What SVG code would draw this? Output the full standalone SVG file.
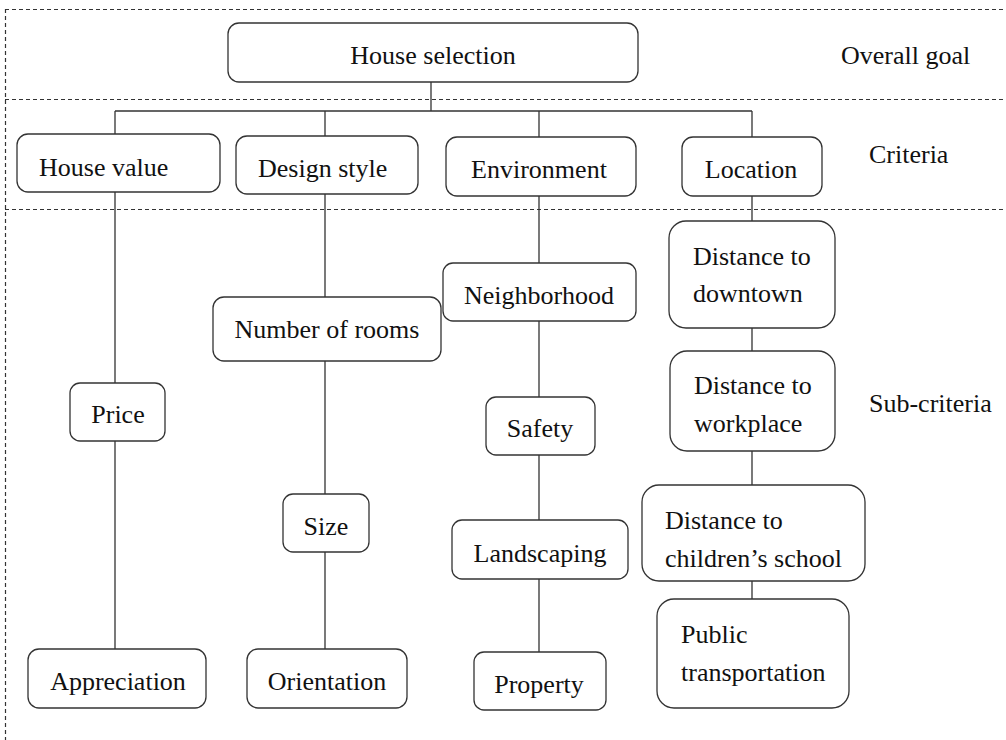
<svg xmlns="http://www.w3.org/2000/svg" width="1006" height="740" viewBox="0 0 1006 740">
<style>
.bg{fill:#fff}
.dash{stroke:#333;stroke-width:1.2;stroke-dasharray:4 3;fill:none}
.box{fill:#fff;stroke:#333;stroke-width:1.3}
.ln{stroke:#333;stroke-width:1.3;fill:none}
text{font-family:"Liberation Serif","Times New Roman",serif;font-size:26px;fill:#111}
.c{text-anchor:middle}
</style>
<rect class="bg" x="0" y="0" width="1006" height="740"/>
<g id="guides">
<line class="dash" x1="5" y1="9.5" x2="1006" y2="9.5"/>
<line class="dash" x1="5" y1="99.5" x2="1006" y2="99.5"/>
<line class="dash" x1="5" y1="209.5" x2="1006" y2="209.5"/>
<line class="dash" x1="5.5" y1="9" x2="5.5" y2="740"/>
</g>
<g id="connectors">
<path class="ln" d="M431 82V111M115 111H752M115 111V134M325 111V136M539 111V137M752 111V137"/>
<path class="ln" d="M115 192V383M115 441V649"/>
<path class="ln" d="M325 194V297M325 361V494M325 552V649"/>
<path class="ln" d="M539 196V263M539 321V397M539 455V520M539 579V652"/>
<path class="ln" d="M752 196V221M752 328V351M752 451V485M752 581V599"/>
</g>
<g id="layer-labels">
<text x="841" y="64">Overall goal</text>
<text x="869" y="163">Criteria</text>
<text x="869" y="412">Sub-criteria</text>
</g>
<g id="n-goal"><rect class="box" x="228" y="23" width="410" height="59" rx="11"/><text class="c" x="433" y="64">House selection</text></g>
<g id="n-house-value"><rect class="box" x="17" y="134" width="203" height="58" rx="11"/><text x="39" y="176">House value</text></g>
<g id="n-design-style"><rect class="box" x="236" y="136" width="182" height="58" rx="11"/><text x="258" y="177">Design style</text></g>
<g id="n-environment"><rect class="box" x="446" y="137" width="190" height="59" rx="11"/><text class="c" x="539" y="178">Environment</text></g>
<g id="n-location"><rect class="box" x="682" y="137" width="140" height="59" rx="11"/><text class="c" x="751" y="178">Location</text></g>
<g id="n-price"><rect class="box" x="70" y="383" width="95" height="58" rx="10"/><text class="c" x="118" y="423">Price</text></g>
<g id="n-appreciation"><rect class="box" x="28" y="649" width="178" height="59" rx="11"/><text class="c" x="118" y="690">Appreciation</text></g>
<g id="n-rooms"><rect class="box" x="213" y="297" width="228" height="64" rx="11"/><text class="c" x="327" y="338">Number of rooms</text></g>
<g id="n-size"><rect class="box" x="283" y="494" width="86" height="58" rx="10"/><text class="c" x="326" y="535">Size</text></g>
<g id="n-orientation"><rect class="box" x="247" y="649" width="160" height="59" rx="11"/><text class="c" x="327" y="690">Orientation</text></g>
<g id="n-neighborhood"><rect class="box" x="443" y="263" width="193" height="58" rx="10"/><text class="c" x="539" y="304">Neighborhood</text></g>
<g id="n-safety"><rect class="box" x="486" y="397" width="109" height="58" rx="10"/><text class="c" x="540" y="437">Safety</text></g>
<g id="n-landscaping"><rect class="box" x="452" y="520" width="176" height="59" rx="10"/><text class="c" x="540" y="562">Landscaping</text></g>
<g id="n-property"><rect class="box" x="474" y="652" width="132" height="58" rx="10"/><text class="c" x="539" y="693">Property</text></g>
<g id="n-downtown"><rect class="box" x="669" y="221" width="166" height="107" rx="17"/><text x="693" y="265">Distance to</text><text x="693" y="302">downtown</text></g>
<g id="n-workplace"><rect class="box" x="670" y="351" width="165" height="100" rx="17"/><text x="694" y="394">Distance to</text><text x="694" y="432">workplace</text></g>
<g id="n-school"><rect class="box" x="642" y="485" width="223" height="96" rx="17"/><text x="665" y="529">Distance to</text><text x="665" y="567">children’s school</text></g>
<g id="n-transport"><rect class="box" x="657" y="599" width="192" height="109" rx="17"/><text x="681" y="643">Public</text><text x="681" y="681">transportation</text></g>
</svg>
